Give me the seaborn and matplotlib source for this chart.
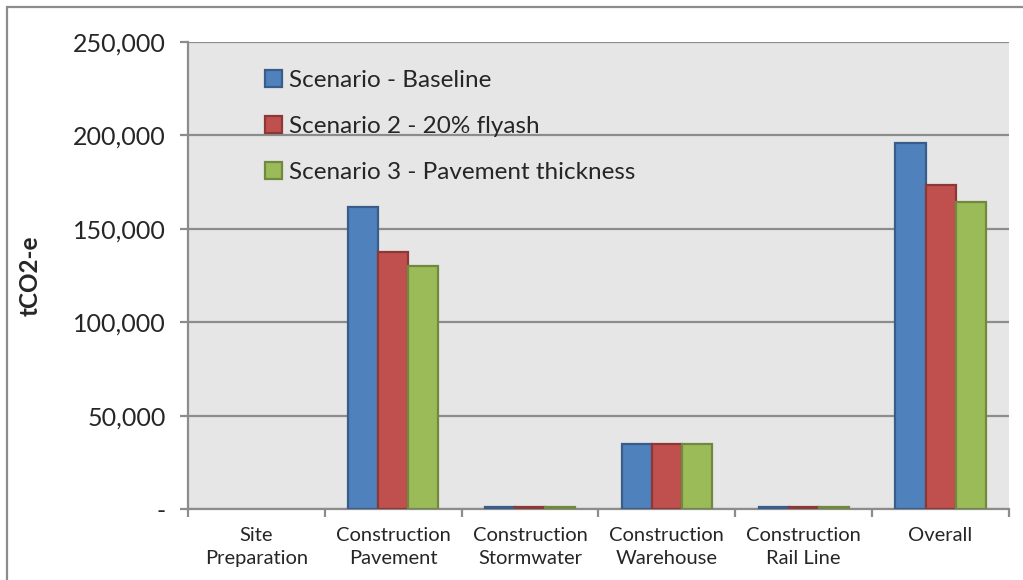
import pandas as pd
import matplotlib.pyplot as plt
import matplotlib.ticker as mticker
from matplotlib.patches import Rectangle
import seaborn as sns

# Chart data
categories = ["Site\nPreparation", "Construction\nPavement", "Construction\nStormwater",
              "Construction\nWarehouse", "Construction\nRail Line", "Overall"]
scenarios = ["Scenario - Baseline", "Scenario 2 - 20% flyash", "Scenario 3 - Pavement thickness"]
baseline = [0, 161500, 1200, 34800, 1100, 195900]
flyash = [0, 137500, 1200, 34800, 1100, 173300]
thickness = [0, 130000, 1200, 34800, 1100, 164300]

fill_colors = ["#4F81BD", "#C0504D", "#9BBB59"]
edge_colors = ["#385D8A", "#8C3836", "#71893F"]

df = pd.DataFrame({
    "category": categories * 3,
    "scenario": [s for s in scenarios for _ in categories],
    "value": baseline + flyash + thickness,
})

sns.set_style("white")
plt.rcParams["font.family"] = ["Lato", "DejaVu Sans"]

fig = plt.figure(figsize=(10.23, 5.8), dpi=100)
ax = fig.add_axes([188 / 1023, 1 - 509 / 580, 821 / 1023, 467 / 580])
ax.set_facecolor("#E6E6E6")

sns.barplot(data=df, x="category", y="value", hue="scenario", order=categories,
            hue_order=scenarios, palette=fill_colors, saturation=1, width=0.66,
            ax=ax, zorder=3)

# darker outline per series, like the Excel bars
for cont, ec in zip(ax.containers, edge_colors):
    for p in cont:
        p.set_edgecolor(ec)
        p.set_linewidth(1.6)
        if p.get_height() == 0:
            p.set_linewidth(0)

ax.set_ylim(0, 250000)
ax.set_xlim(-0.5, len(categories) - 0.5)
ax.yaxis.set_major_locator(mticker.MultipleLocator(50000))
ax.yaxis.set_major_formatter(mticker.FuncFormatter(lambda v, p: "-" if v == 0 else f"{int(v):,}"))
ax.grid(axis="y", color="#8C8C8C", linewidth=1.6, zorder=1)
ax.set_axisbelow(True)

for side in ["top", "right"]:
    ax.spines[side].set_visible(False)
for side in ["left", "bottom"]:
    ax.spines[side].set_color("#8C8C8C")
    ax.spines[side].set_linewidth(1.6)

ax.tick_params(axis="y", direction="out", length=6, width=1.6, color="#8C8C8C",
               labelsize=18, pad=10, left=True)
ax.set_xticks(range(len(categories)))
ax.set_xticklabels(categories, fontsize=14.5, linespacing=1.4)
ax.set_xticks([i - 0.5 for i in range(len(categories) + 1)], minor=True)
ax.tick_params(axis="x", which="major", length=0, pad=13)
ax.tick_params(axis="x", which="minor", direction="out", length=6, width=1.6,
               color="#8C8C8C", bottom=True)

ax.set_xlabel("")
ax.set_ylabel("tCO2-e", fontsize=17.5, fontweight="bold")
ax.yaxis.set_label_coords((42 - 188) / 821, 0.5)

ax.legend(loc="upper left", bbox_to_anchor=((265 - 188) / 821, (509 - 70) / 467),
          frameon=False, fontsize=17.5, labelspacing=1.02, handlelength=0.7,
          handleheight=0.7, handletextpad=0.3, borderpad=0, borderaxespad=0)
for h, ec in zip(ax.get_legend().legend_handles, edge_colors):
    h.set_edgecolor(ec)
    h.set_linewidth(1.6)

# outer chart border (cut off at the right and bottom)
fig.patches.append(Rectangle((7 / 1023, -0.1), 1.2, 1.1 - 7 / 580, transform=fig.transFigure,
                             fill=False, edgecolor="#8C8C8C", linewidth=1.6))

fig.savefig("out.png", dpi=100, facecolor="white")
